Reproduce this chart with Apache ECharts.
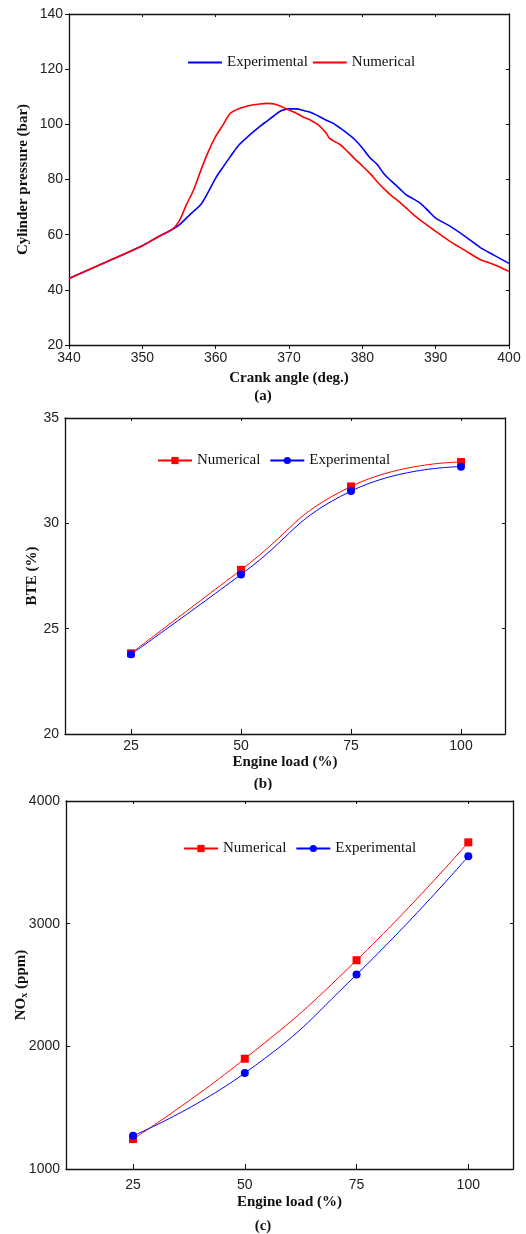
<!DOCTYPE html>
<html>
<head>
<meta charset="utf-8">
<script src="https://cdn.jsdelivr.net/npm/echarts@6/dist/echarts.min.js"></script>
<style>
  html, body { margin: 0; padding: 0; background: #fff; }
  #a { width: 526px; height: 405px; }
  #b { width: 526px; height: 385px; }
  #c { width: 526px; height: 444px; }
</style>
</head>
<body>
<div id="a"></div>
<div id="b"></div>
<div id="c"></div>
<script>
// (a) cylinder pressure vs crank angle
const crankExp = [340, 345, 350, 352, 354, 355, 356, 357, 358, 359, 360, 361, 362, 363, 364, 365, 366, 367, 368, 369, 370, 371, 372, 373, 374, 375, 376, 377, 378, 379, 380, 381, 382, 383, 384, 385, 386, 387, 388, 389, 390, 392, 394, 396, 398, 400]
const pressExp = [44.1, 50.0, 56.0, 59.0, 61.8, 63.5, 66.0, 68.5, 71.0, 75.5, 80.5, 84.5, 88.3, 92.0, 94.6, 97.0, 99.2, 101.2, 103.2, 105.0, 105.6, 105.6, 105.0, 104.3, 103.0, 101.6, 100.4, 98.6, 96.6, 94.4, 91.4, 88.0, 85.5, 81.9, 79.3, 76.9, 74.4, 72.9, 71.2, 68.6, 66.0, 63.0, 59.4, 55.5, 52.5, 49.6]
const crankNum = [340, 345, 350, 352, 354, 355, 356, 357, 358, 359, 360, 361, 362, 363, 364, 365, 366, 367, 368, 369, 370, 371, 372, 373, 374, 375, 375.5, 376, 377, 378, 379, 380, 381, 382, 383, 384, 385, 386, 387, 388, 390, 392, 394, 396, 398, 400]
const pressNum = [44.1, 50.0, 56.0, 59.0, 61.8, 64.8, 70.8, 76.3, 83.5, 90.1, 95.6, 99.8, 104.0, 105.5, 106.4, 107.0, 107.4, 107.6, 107.4, 106.4, 105.2, 104.0, 102.6, 101.4, 99.8, 97.0, 95.0, 94.1, 92.6, 90.1, 87.4, 84.9, 82.3, 79.3, 76.5, 74.1, 72.0, 69.6, 67.2, 65.1, 61.2, 57.5, 54.3, 51.1, 49.1, 46.7]

// (b) and (c) vs engine load
const loads = [25, 50, 75, 100]
const bteNum = [23.83, 27.79, 31.75, 32.91]
const bteExp = [23.78, 27.57, 31.53, 32.69]
const noxNum = [1244, 1899, 2702, 3663]
const noxExp = [1271, 1782, 2585, 3549]

const tickFont = { color: '#222', fontFamily: 'Liberation Sans', fontSize: 14, formatter: v => String(v) }
const titleFont = { color: '#111', fontFamily: 'Liberation Serif', fontSize: 15, fontWeight: 'bold' }
const legendFont = { color: '#111', fontFamily: 'Liberation Serif', fontSize: 15 }
const frameLine = { lineStyle: { color: '#111', width: 1.3 } }

function pairs(xs, ys) { return xs.map((x, i) => [x, ys[i]]) }

function frameAxes(xMin, xMax, xInt, xTicks, yMin, yMax, yInt) {
  const top = {
    type: 'value', position: 'top', min: xMin, max: xMax, interval: xInt,
    axisLine: { show: true, onZero: false, ...frameLine },
    axisTick: { show: true, inside: true, length: 3, lineStyle: { color: '#111' } },
    axisLabel: { show: false }, splitLine: { show: false }
  }
  if (xTicks) top.axisTick.customValues = xTicks
  const right = {
    type: 'value', position: 'right', min: yMin, max: yMax, interval: yInt,
    axisLine: { show: true, onZero: false, ...frameLine },
    axisTick: { show: true, inside: true, length: 3, lineStyle: { color: '#111' } },
    axisLabel: { show: false }, splitLine: { show: false }
  }
  return { top, right }
}

// ---- chart (a)
const chartA = echarts.init(document.getElementById('a'))
const fa = frameAxes(340, 400, 10, null, 20, 140, 20)
chartA.setOption({
  animation: false,
  grid: { left: 69, top: 14, width: 440, height: 331, outerBoundsMode: 'none' },
  legend: {
    left: 183, top: 50, itemWidth: 34, itemHeight: 2, itemGap: 5, icon: 'rect',
    textStyle: legendFont,
    data: ['Experimental', 'Numerical']
  },
  xAxis: [{
    type: 'value', min: 340, max: 400, interval: 10,
    name: 'Crank angle (deg.)', nameLocation: 'middle', nameGap: 26, nameMoveOverlap: false, nameTextStyle: titleFont,
    axisLine: { onZero: false, ...frameLine },
    axisTick: { show: true, length: 4, lineStyle: { color: '#111' } },
    axisLabel: { ...tickFont, margin: 6 }, splitLine: { show: false }
  }, fa.top],
  yAxis: [{
    type: 'value', min: 20, max: 140, interval: 20,
    name: 'Cylinder pressure (bar)', nameLocation: 'middle', nameGap: 38, nameMoveOverlap: false, nameTextStyle: titleFont,
    axisLine: { show: true, onZero: false, ...frameLine },
    axisTick: { show: true, length: 4, lineStyle: { color: '#111' } },
    axisLabel: { ...tickFont, margin: 6 }, splitLine: { show: false }
  }, fa.right],
  graphic: [{
    type: 'text', left: 'center', top: 389,
    style: { text: '(a)', font: 'bold 15px "Liberation Serif"', fill: '#111' }
  }],
  series: [
    { name: 'Experimental', type: 'line', symbol: 'none', smooth: 0.3, color: '#0000ff',
      lineStyle: { width: 1.6 }, data: pairs(crankExp, pressExp) },
    { name: 'Numerical', type: 'line', symbol: 'none', smooth: 0.3, color: '#ff0000',
      lineStyle: { width: 1.6 }, data: pairs(crankNum, pressNum) }
  ]
})

// ---- charts (b) and (c)
function loadChart(el, opts) {
  const chart = echarts.init(document.getElementById(el))
  const f = frameAxes(10, 110, 25, loads, opts.yMin, opts.yMax, opts.yInt)
  chart.setOption({
    animation: false,
    grid: { ...opts.grid, outerBoundsMode: 'none' },
    legend: {
      left: opts.legendLeft, top: opts.legendTop, itemWidth: 34, itemHeight: 9, itemGap: 9,
      textStyle: legendFont,
      data: ['Numerical', 'Experimental']
    },
    xAxis: [{
      type: 'value', min: 10, max: 110,
      name: 'Engine load (%)', nameLocation: 'middle', nameGap: opts.xGap, nameMoveOverlap: false, nameTextStyle: titleFont,
      axisLine: { onZero: false, ...frameLine },
      axisTick: { show: true, inside: true, length: 5, customValues: loads, lineStyle: { color: '#111' } },
      axisLabel: { ...tickFont, margin: opts.xMargin, customValues: loads }, splitLine: { show: false }
    }, f.top],
    yAxis: [{
      type: 'value', min: opts.yMin, max: opts.yMax, interval: opts.yInt,
      name: opts.yName, nameLocation: 'middle', nameGap: opts.yGap, nameMoveOverlap: false,
      nameTextStyle: { ...titleFont, rich: opts.rich },
      axisLine: { show: true, onZero: false, ...frameLine },
      axisTick: { show: true, inside: true, length: 4, lineStyle: { color: '#111' } },
      axisLabel: { ...tickFont, margin: 6 }, splitLine: { show: false }
    }, f.right],
    graphic: [{
      type: 'text', left: 'center', top: opts.labelTop,
      style: { text: opts.label, font: 'bold 15px "Liberation Serif"', fill: '#111' }
    }],
    series: [
      { name: 'Numerical', type: 'line', smooth: true, color: '#ff0000', symbol: 'rect', symbolSize: 8,
        lineStyle: { width: 1 }, data: pairs(loads, opts.num) },
      { name: 'Experimental', type: 'line', smooth: true, color: '#0000ff', symbol: 'circle', symbolSize: 8,
        lineStyle: { width: 1 }, data: pairs(loads, opts.exp) }
    ]
  })
  return chart
}

loadChart('b', {
  grid: { left: 65, top: 13, width: 440, height: 316 },
  yMin: 20, yMax: 35, yInt: 5, yName: 'BTE (%)', yGap: 25, xGap: 21, xMargin: 5,
  legendLeft: 152, legendTop: 43, label: '(b)', labelTop: 372,
  num: bteNum, exp: bteExp
})

loadChart('c', {
  grid: { left: 66, top: 11, width: 447, height: 368 },
  yMin: 1000, yMax: 4000, yInt: 1000, yName: '{a|NO}{s|x}{a| (ppm)}', yGap: 37, xGap: 26, xMargin: 9,
  rich: {
    a: { fontFamily: 'Liberation Serif', fontSize: 15, fontWeight: 'bold', color: '#111' },
    s: { fontFamily: 'Liberation Serif', fontSize: 10, fontWeight: 'bold', color: '#111', verticalAlign: 'bottom', padding: [6, 0, 0, 0] }
  },
  legendLeft: 178, legendTop: 46, label: '(c)', labelTop: 429,
  num: noxNum, exp: noxExp
})
</script>
</body>
</html>
